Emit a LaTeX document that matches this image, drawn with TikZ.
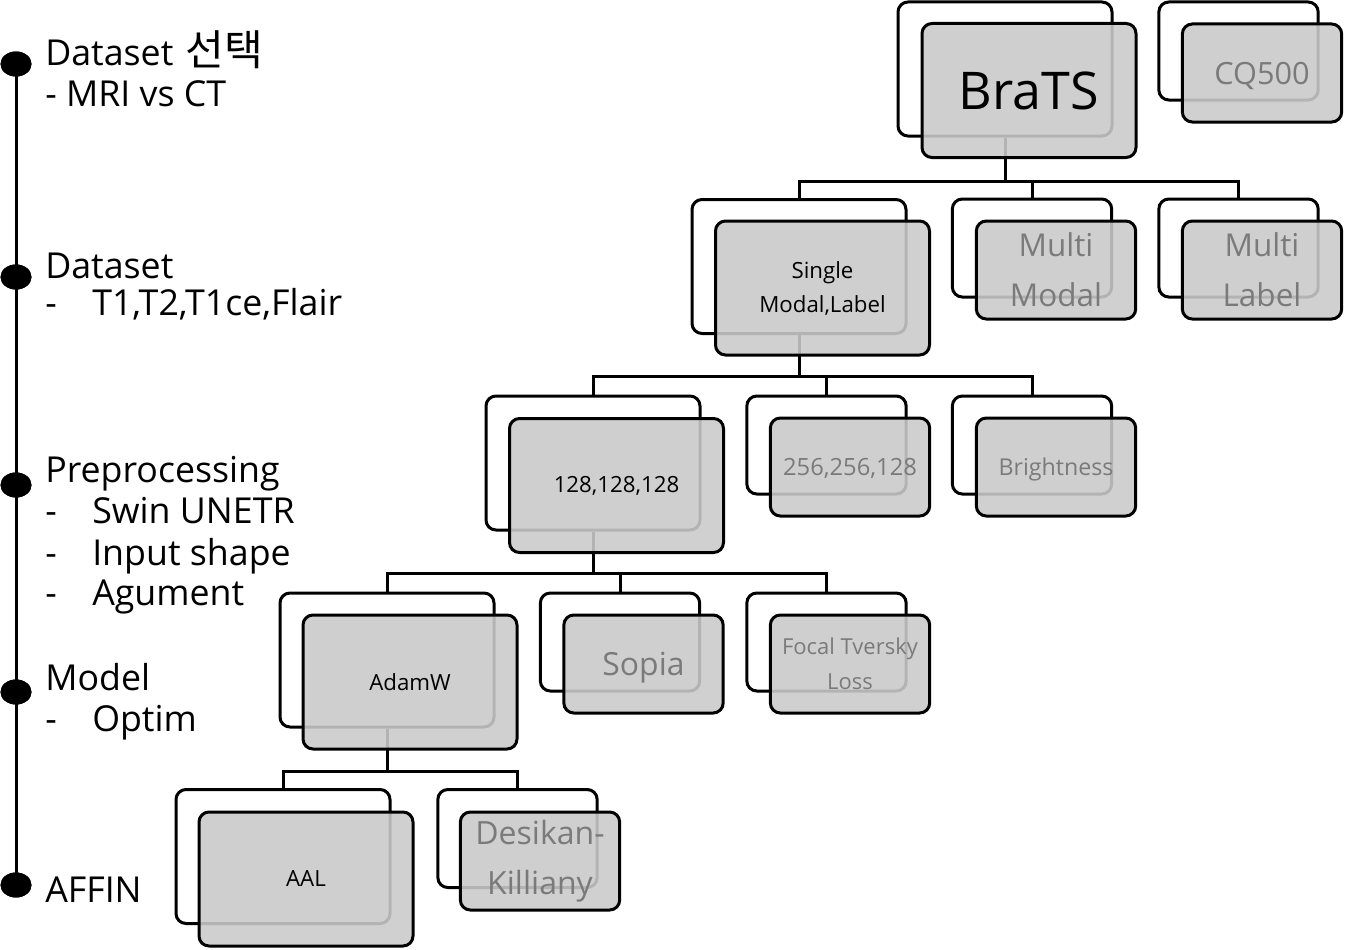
\documentclass[tikz,border=0pt]{standalone}
\usepackage{fontspec}
\setmainfont{Open Sans}
\newfontfamily\krfont[Scale=1.18]{Noto Sans CJK KR}
\usetikzlibrary{shapes.geometric}
\definecolor{boxfill}{RGB}{202,202,202}
\definecolor{dimtext}{RGB}{122,122,122}
\begin{document}
\begin{tikzpicture}[x=0.75pt,y=-0.75pt,
  backbox/.style={draw=black, line width=2.25pt, rounded corners=7.5pt, fill=white, inner sep=0pt},
  frontbox/.style={draw=black, line width=2.25pt, rounded corners=7.5pt, fill=boxfill, fill opacity=0.89, text opacity=1, inner sep=0pt, align=center},
  bigbox/.style={minimum width=160.5pt, minimum height=100.5pt},
  smallbox/.style={minimum width=119.5pt, minimum height=73.5pt},
  dimmed/.style={text=dimtext},
  conn/.style={draw=black, line width=2.25pt},
  dotnode/.style={ellipse, fill=black, inner sep=0pt, minimum width=23.25pt, minimum height=18.75pt},
  lefttxt/.style={anchor=base west, inner sep=0pt, font=\fontsize{26.8}{30.75}\selectfont},
  fs/.style={font=\fontsize{16.7}{25.5}\selectfont},
  fl/.style={font=\fontsize{23.6}{37.5}\selectfont}
]
\useasboundingbox (0,0) rectangle (1359,949);

% ---- timeline ----
\node[dotnode] (d1) at (16,64) {};
\node[dotnode] (d2) at (16,277) {};
\node[dotnode] (d3) at (16,485) {};
\node[dotnode] (d4) at (16,692) {};
\node[dotnode] (d5) at (16,885) {};
\draw[line width=2.25pt] (d1.center) -- (d5.center);
\foreach \d in {d1,d2,d3,d4,d5} \node[dotnode] at (\d) {};

\node[lefttxt] (l1a) at (45,65) {Dataset\hspace{2pt} {\krfont 선택}};
\node[lefttxt] (l1b) at (45,106) {- MRI vs CT};
\node[lefttxt] (l2a) at (45,278) {Dataset};
\node[lefttxt] (l2b) at (45,315) {\makebox[35.25pt][l]{-}T1,T2,T1ce,Flair};
\node[lefttxt] (l3a) at (45,482) {Preprocessing};
\node[lefttxt] (l3b) at (45,523) {\makebox[35.25pt][l]{-}Swin UNETR};
\node[lefttxt] (l3c) at (45,565) {\makebox[35.25pt][l]{-}Input shape};
\node[lefttxt] (l3d) at (45,605) {\makebox[35.25pt][l]{-}Agument};
\node[lefttxt] (l4a) at (45,690) {Model};
\node[lefttxt] (l4b) at (45,731) {\makebox[35.25pt][l]{-}Optim};
\node[lefttxt] (l5a) at (45,902) {AFFIN};

% ---- back boxes ----
\node[backbox,bigbox] (brats-b) at (1005,69) {};
\node[backbox,smallbox] (cq-b) at (1238.5,51) {};
\node[backbox,bigbox] (single-b) at (799,266.5) {};
\node[backbox,smallbox] (mm-b) at (1032,248) {};
\node[backbox,smallbox] (ml-b) at (1238.5,248) {};
\node[backbox,bigbox] (p128-b) at (593,463) {};
\node[backbox,smallbox] (p256-b) at (826.5,445) {};
\node[backbox,smallbox] (bright-b) at (1032,445) {};
\node[backbox,bigbox] (adam-b) at (387,660) {};
\node[backbox,smallbox] (sopia-b) at (620,642) {};
\node[backbox,smallbox] (focal-b) at (826.5,642) {};
\node[backbox,bigbox] (aal-b) at (283,856.5) {};
\node[backbox,smallbox] (desikan-b) at (517.5,838.5) {};

% ---- connectors ----
\path (brats-b.south) ++(0,44) coordinate (bus1);
\draw[conn] (brats-b.south) -- (bus1);
\draw[conn] (bus1) -| (single-b.north);
\draw[conn] (bus1) -| (mm-b.north);
\draw[conn] (bus1) -| (ml-b.north);

\path (single-b.south) ++(0,41) coordinate (bus2);
\draw[conn] (single-b.south) -- (bus2);
\draw[conn] (bus2) -| (p128-b.north);
\draw[conn] (bus2) -| (p256-b.north);
\draw[conn] (bus2) -| (bright-b.north);

\path (p128-b.south) ++(0,42) coordinate (bus3);
\draw[conn] (p128-b.south) -- (bus3);
\draw[conn] (bus3) -| (adam-b.north);
\draw[conn] (bus3) -| (sopia-b.north);
\draw[conn] (bus3) -| (focal-b.north);

\path (adam-b.south) ++(0,43) coordinate (bus4);
\draw[conn] (adam-b.south) -- (bus4);
\draw[conn] (bus4) -| (aal-b.north);
\draw[conn] (bus4) -| (desikan-b.north);

% ---- front boxes ----
\node[frontbox,bigbox,font=\fontsize{39}{47}\selectfont] (brats-f) at (1029,90.5) {BraTS};
\node[frontbox,smallbox,dimmed,text depth=0pt,font=\fontsize{23}{28}\selectfont] (cq-f) at (1262,73) {CQ500};
\node[frontbox,bigbox,fs] (single-f) at (822.5,288) {Single\\Modal,Label};
\node[frontbox,smallbox,dimmed,fl] (mm-f) at (1056,270) {Multi\\Modal};
\node[frontbox,smallbox,dimmed,fl] (ml-f) at (1262,270) {Multi\\Label};
\node[frontbox,bigbox,fs] (p128-f) at (616.5,485.5) {128,128,128};
\node[frontbox,smallbox,dimmed,text depth=0pt,font=\fontsize{17.8}{22}\selectfont] (p256-f) at (850,467) {256,256,128};
\node[frontbox,smallbox,dimmed,text depth=0pt,font=\fontsize{17.4}{22}\selectfont] (bright-f) at (1056,467) {Brightness};
\node[frontbox,bigbox,fs] (adam-f) at (410,682) {AdamW};
\node[frontbox,smallbox,dimmed,text depth=0pt,font=\fontsize{23.9}{30}\selectfont] (sopia-f) at (643.5,664) {Sopia};
\node[frontbox,smallbox,dimmed,font=\fontsize{16.5}{26}\selectfont] (focal-f) at (850,664) {Focal Tversky\\Loss};
\node[frontbox,bigbox,fs] (aal-f) at (306,879) {AAL};
\node[frontbox,smallbox,dimmed,font=\fontsize{24}{37.5}\selectfont] (desikan-f) at (540,861) {Desikan-\\Killiany};
\end{tikzpicture}
\end{document}
